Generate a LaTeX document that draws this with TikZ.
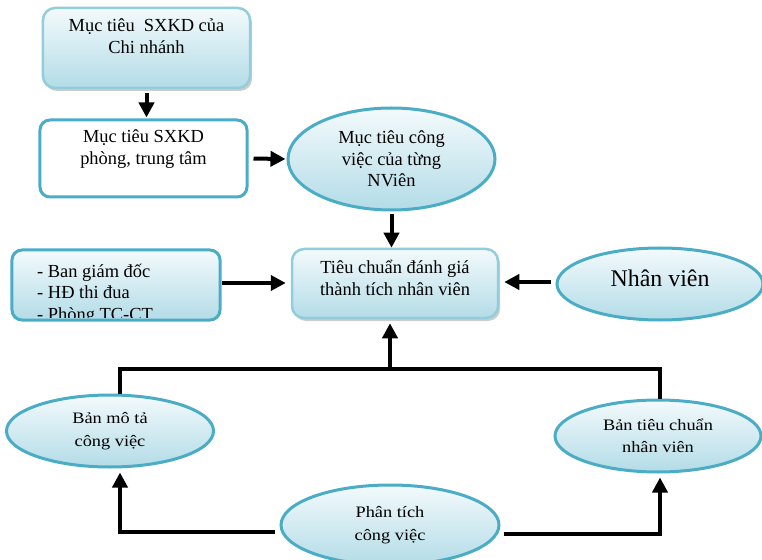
\documentclass[tikz,border=0pt]{standalone}
\usepackage{fontspec}
\setmainfont{Liberation Serif}
\newfontfamily\hepfont[FakeStretch=1.15]{Liberation Serif}
\usetikzlibrary{shapes.geometric,arrows.meta,shadows}
\definecolor{vienxanh}{HTML}{4BACC6}
\definecolor{viennhat}{HTML}{92CDDC}
\definecolor{nentren}{HTML}{F3FAFC}
\definecolor{nenduoi}{HTML}{B3DCE7}
\tikzset{
  chu/.style={font=\fontsize{18.5}{21.5}\selectfont, align=center, inner sep=0pt},
  chunho/.style={font=\hepfont\fontsize{16}{22.5}\selectfont, align=center, inner sep=0pt},
  nen/.style={top color=nentren, bottom color=nenduoi},
  hopbong/.style={nen, draw=viennhat, line width=2.5bp, rounded corners=12bp,
    drop shadow={shadow xshift=2bp, shadow yshift=-3bp, fill=black!40, opacity=0.5}},
  hopvien/.style={draw=vienxanh, line width=3bp, rounded corners=10bp},
  elip/.style={nen, ellipse, draw=vienxanh, line width=3bp, inner sep=0pt},
  muiten/.style={line width=4bp, -{Triangle[length=15bp,width=15bp]}},
  noi/.style={line width=4bp}
}
\begin{document}
\begin{tikzpicture}[x=1bp,y=-1bp]
\useasboundingbox (0,0) rectangle (762,560);
\node[hopbong, minimum width=207bp, minimum height=80bp] (cn) at (146.5,48) {};
\node[chu] (cnchu) at (146.5,36) {Mục tiêu \ SXKD của\\Chi nhánh};
\node[hopvien, fill=white, minimum width=207bp, minimum height=77bp] (pb) at (143.5,158.5) {};
\node[chu] (pbchu) at (143.5,149) {Mục tiêu SXKD\\phòng, trung tâm};
\node[elip, chu, minimum width=207bp, minimum height=102bp] (nv) at (391.5,159) {Mục tiêu công\\việc của từng\\NViên};
\node[hopbong, minimum width=206bp, minimum height=69bp] (tc) at (395,283.5) {};
\node[chu] (tcchu) at (395,278) {Tiêu chuẩn đánh giá\\thành tích nhân viên};
\node[hopvien, nen, minimum width=208bp, minimum height=70bp] (bgd) at (116,285) {};
\begin{scope}
\clip[rounded corners=8bp] (14,252) rectangle (218,317);
\node[chu, align=left, anchor=west] (bgdchu) at (37,294) {- Ban giám đốc\\- HĐ thi đua\\- Phòng TC-CT};
\end{scope}
\node[elip, minimum width=206bp, minimum height=72bp] (nvien) at (660,284) {};
\node[chu, font=\fontsize{24}{28}\selectfont] (nvienchu) at (660,278) {Nhân viên};
\node[elip, chunho, minimum width=207bp, minimum height=72bp] (mt) at (110,431) {Bản mô tả\\công việc};
\node[elip, chunho, minimum width=206bp, minimum height=72bp] (tcnv) at (658,436) {Bản tiêu chuẩn\\nhân viên};
\node[elip, chunho, minimum width=218bp, minimum height=80bp] (pt) at (390,525) {Phân tích\\công việc};
\coordinate (re) at (390,369);
\coordinate (trai) at (120,369);
\coordinate (phai) at (660,369);
\draw[muiten, shorten <=4bp, shorten >=1bp] (cn.south) -- (cn.south |- pb.north);
\draw[muiten, shorten <=5bp, shorten >=1bp] (pb.east) -- (nv.west);
\draw[muiten, shorten <=3bp] (nv.south) -- (nv.south |- tc.north);
\draw[muiten, shorten >=5bp] ([yshift=2bp]bgd.east) -- ([yshift=2bp]bgd.east -| tc.west);
\draw[muiten, shorten <=5bp, shorten >=5bp] ([yshift=2bp]nvien.west) -- ([yshift=2bp]nvien.west -| tc.east);
\draw[muiten, shorten >=4bp] (re) -- (re |- tc.south);
\draw[noi] (trai |- mt.north) -- (trai) -- (phai) -- (phai |- tcnv.north);
\draw[muiten, shorten >=4bp] ([shift={(-5,7)}]pt.west) -| (trai |- mt.south);
\draw[muiten, shorten >=4bp] ([shift={(3,9)}]pt.east) -| (phai |- tcnv.south);
\end{tikzpicture}
\end{document}
